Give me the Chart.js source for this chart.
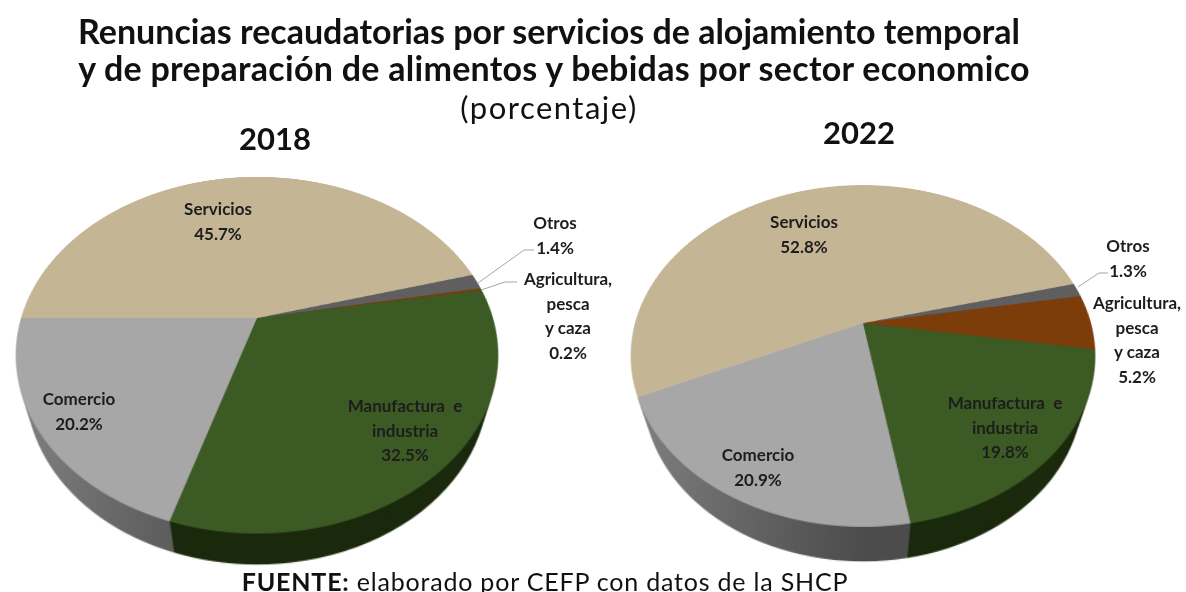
<!DOCTYPE html>
<html lang="es">
<head>
<meta charset="utf-8">
<title>Renuncias recaudatorias</title>
<script src="https://cdn.jsdelivr.net/npm/chart.js@4"></script>
<style>
  html, body { margin: 0; background: #fff; }
  #page { position: relative; width: 1186px; height: 592px; overflow: hidden; font-family: Lato, sans-serif; color: #111; }
  #page canvas { position: absolute; }
  #lines { position: absolute; left: 0; top: 0; }
  .txt { position: absolute; white-space: nowrap; transform: translate(-50%, -50%); }
  .title { font-weight: 700; font-size: 34px; }
  .year { font-weight: 700; font-size: 31px; }
  .lbl { font-weight: 700; font-size: 17px; text-align: center; color: #1d1d1d; }
  .lbl div { position: absolute; left: 50%; transform: translate(-50%, -50%); white-space: pre; }
</style>
</head>
<body>
<div id="page">
  <canvas id="pie2018" width="552" height="552"></canvas>
  <canvas id="pie2022" width="536" height="536"></canvas>
  <svg id="lines" width="1186" height="592"></svg>
  <div class="txt title" style="left:549px;top:30px">Renuncias recaudatorias por servicios de alojamiento temporal</div>
  <div class="txt title" style="left:554px;top:67px;letter-spacing:0.27px">y de preparación de alimentos y bebidas por sector economico</div>
  <div class="txt" style="left:549px;top:107px;font-size:31px;letter-spacing:1.5px">(porcentaje)</div>
  <div class="txt year" style="left:275px;top:138px">2018</div>
  <div class="txt year" style="left:859px;top:132px">2022</div>
  <div class="txt" style="left:545px;top:581px;font-size:25px;letter-spacing:0.8px"><b>FUENTE:</b> elaborado por CEFP con datos de la SHCP</div>
</div>
<script>
const categories = ["Servicios", "Otros", "Agricultura, pesca y caza", "Manufactura e industria", "Comercio"];
const values2018 = [45.7, 1.4, 0.2, 32.5, 20.2];
const values2022 = [52.8, 1.3, 5.2, 19.8, 20.9];

const labelLines = [["Servicios"], ["Otros"], ["Agricultura,", "pesca", "y caza"], ["Manufactura  e", "industria"], ["Comercio"]];
const topColors = ["#c4b594", "#5f5f5f", "#7d3d0b", "#3c5a23", "#a7a7a7"];
const sideColors = [null, "#444444", "#5a2b06", "#1b2a0d", "#5b5b5b"];

// extruded edge under the pie, drawn from the arc elements so it follows the data
const pieDepth = {
  id: "pieDepth",
  beforeDatasetsDraw(chart, args, opts) {
    const { ctx } = chart;
    const arcs = chart.getDatasetMeta(0).data;
    const grad = ctx.createLinearGradient(chart.width * 0.05, 0, chart.width * 0.5, 0);
    grad.addColorStop(0, "#8a8a8a");
    grad.addColorStop(1, "#4c4c4c");
    for (let i = opts.height; i > 0; i--) {
      arcs.forEach((arc, n) => {
        if (!sideColors[n]) return; // back slices never show an edge
        const p = arc.getProps(["x", "y", "startAngle", "endAngle", "outerRadius"], true);
        const r = p.outerRadius - i * opts.shrink;
        ctx.beginPath();
        ctx.moveTo(p.x, p.y + i);
        ctx.arc(p.x, p.y + i, r, p.startAngle, p.endAngle);
        ctx.closePath();
        ctx.fillStyle = n === 4 ? grad : sideColors[n];
        ctx.fill();
      });
    }
  }
};

function drawPie(id, values, rotation, cx, cy, radius, size, tilt, persp, depth) {
  const canvas = document.getElementById(id);
  canvas.style.left = (cx - size / 2) + "px";
  canvas.style.top = (cy - size / 2) + "px";
  canvas.style.width = size + "px";
  canvas.style.height = size + "px";
  canvas.style.transformOrigin = "50% 50%";
  canvas.style.transform = "perspective(" + persp + "px) rotateX(" + tilt + "deg)";
  new Chart(canvas, {
    type: "pie",
    data: {
      labels: categories,
      datasets: [{ data: values, backgroundColor: topColors, borderWidth: 0, hoverOffset: 0 }]
    },
    options: {
      responsive: false,
      animation: false,
      devicePixelRatio: 2,
      rotation: rotation,
      layout: { padding: (size - 2 * radius) / 2 },
      plugins: {
        legend: { display: false },
        tooltip: { enabled: false },
        pieDepth: { height: depth, shrink: 0.42 }
      }
    },
    plugins: [pieDepth]
  });
}

drawPie("pie2018", values2018, 270, 256.5, 318, 236, 552, 43.7, 783, 45);
drawPie("pie2022", values2022, 245.5, 863, 323, 228, 536, 43.8, 818, 52);

// data labels sit on the page, the pie canvases are tilted and would skew them
function addLabel(lines, x, y, step) {
  const box = document.createElement("div");
  box.className = "txt lbl";
  box.style.left = x + "px";
  box.style.top = y + "px";
  lines.forEach((line, i) => {
    const row = document.createElement("div");
    row.textContent = line;
    row.style.top = (i * step) + "px";
    box.appendChild(row);
  });
  document.getElementById("page").appendChild(box);
}

const spots2018 = [[218, 208], [555, 222], [568, 278], [405, 405], [79, 398]];
const spots2022 = [[804, 221], [1128, 245], [1137, 302], [1005, 402], [758, 454]];

[[values2018, spots2018], [values2022, spots2022]].forEach(([values, spots]) => {
  categories.forEach((c, i) => {
    const lines = labelLines[i].concat(values[i].toFixed(1) + "%");
    addLabel(lines, spots[i][0], spots[i][1], 24.7);
  });
});

const leaders = [
  "478,283 524,250 534,250",
  "481,290 505,282 517,282",
  "1078,287 1099,273 1108,273"
];
document.getElementById("lines").innerHTML = leaders.map(p =>
  '<polyline points="' + p + '" fill="none" stroke="#a5a5a5" stroke-width="1"/>').join("");
</script>
</body>
</html>
